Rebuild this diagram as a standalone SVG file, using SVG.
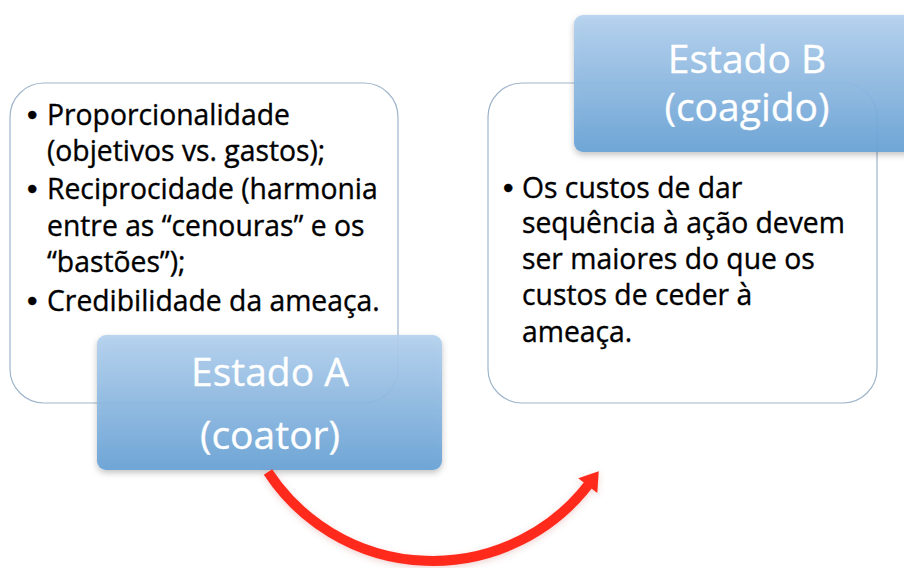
<svg xmlns="http://www.w3.org/2000/svg" width="904" height="568" viewBox="0 0 904 568">
  <defs>
    <linearGradient id="blueGrad" x1="0" y1="0" x2="0" y2="1">
      <stop offset="0" stop-color="#b3d1ee"/>
      <stop offset="1" stop-color="#67a1d5"/>
    </linearGradient>
    <filter id="shadow" x="-10%" y="-10%" width="120%" height="130%">
      <feDropShadow dx="0" dy="3" stdDeviation="3" flood-color="#000" flood-opacity="0.25"/>
    </filter>
    <filter id="glow" x="-10%" y="-10%" width="120%" height="130%">
      <feDropShadow dx="0" dy="2" stdDeviation="3" flood-color="#c0504d" flood-opacity="0.25"/>
    </filter>
    <marker id="arrowHead" markerUnits="userSpaceOnUse" viewBox="-2 -14 22 28" refX="2" refY="0" markerWidth="22" markerHeight="28" orient="auto">
      <path d="M0,-12 L18,0 L0,12 z" fill="#ff2b1c"/>
    </marker>
    <style>
      .panel { fill: #ffffff; fill-opacity: 0.9; stroke: #9fb5ca; stroke-width: 1.2; }
      .label { fill: url(#blueGrad); fill-opacity: 0.92; filter: url(#shadow); }
      .body { font-family: "Open Sans", "Noto Sans", "Liberation Sans", sans-serif; font-size: 28.3px; fill: #000000; stroke: #000000; stroke-width: 0.35px; }
      .bul { font-family: "Liberation Sans", sans-serif; font-size: 30px; }
      .title { font-family: "Open Sans", "Noto Sans", "Liberation Sans", sans-serif; font-size: 39px; fill: #ffffff; stroke: #ffffff; stroke-width: 0.3px; text-anchor: middle; }
      .conn { fill: none; stroke: #ff2b1c; stroke-width: 10; marker-end: url(#arrowHead); filter: url(#glow); }
    </style>
  </defs>

  <rect width="904" height="568" fill="#ffffff"/>

  <g id="stateA">
    <rect class="panel" x="10" y="83" width="388" height="320" rx="34" ry="34"/>
    <text class="body">
      <tspan class="bul" x="27" y="125">•</tspan><tspan x="47" y="125">Proporcionalidade</tspan>
      <tspan x="47" y="161">(objetivos vs. gastos);</tspan>
      <tspan class="bul" x="27" y="199">•</tspan><tspan x="47" y="199">Reciprocidade (harmonia</tspan>
      <tspan x="47" y="236">entre as “cenouras” e os</tspan>
      <tspan x="47" y="272">“bastões”);</tspan>
      <tspan class="bul" x="27" y="311">•</tspan><tspan x="47" y="311">Credibilidade da ameaça.</tspan>
    </text>
    <rect class="label" x="97" y="335" width="345" height="135" rx="9" ry="9"/>
    <text class="title" x="270" y="386">Estado A</text>
    <text class="title" x="270" y="449">(coator)</text>
  </g>

  <g id="stateB">
    <rect class="panel" x="488" y="83" width="389" height="320" rx="34" ry="34"/>
    <text class="body">
      <tspan class="bul" x="503" y="198">•</tspan><tspan x="522" y="198">Os custos de dar</tspan>
      <tspan x="522" y="233">sequência à ação devem</tspan>
      <tspan x="522" y="269">ser maiores do que os</tspan>
      <tspan x="522" y="305">custos de ceder à</tspan>
      <tspan x="522" y="342">ameaça.</tspan>
    </text>
    <rect class="label" x="574" y="15" width="346" height="137" rx="9" ry="9"/>
    <text class="title" x="747" y="73">Estado B</text>
    <text class="title" x="747" y="121">(coagido)</text>
  </g>

  <g id="connectors">
    <path class="conn" d="M 268 472 A 197 197 0 0 0 589 484"/>
  </g>
</svg>
